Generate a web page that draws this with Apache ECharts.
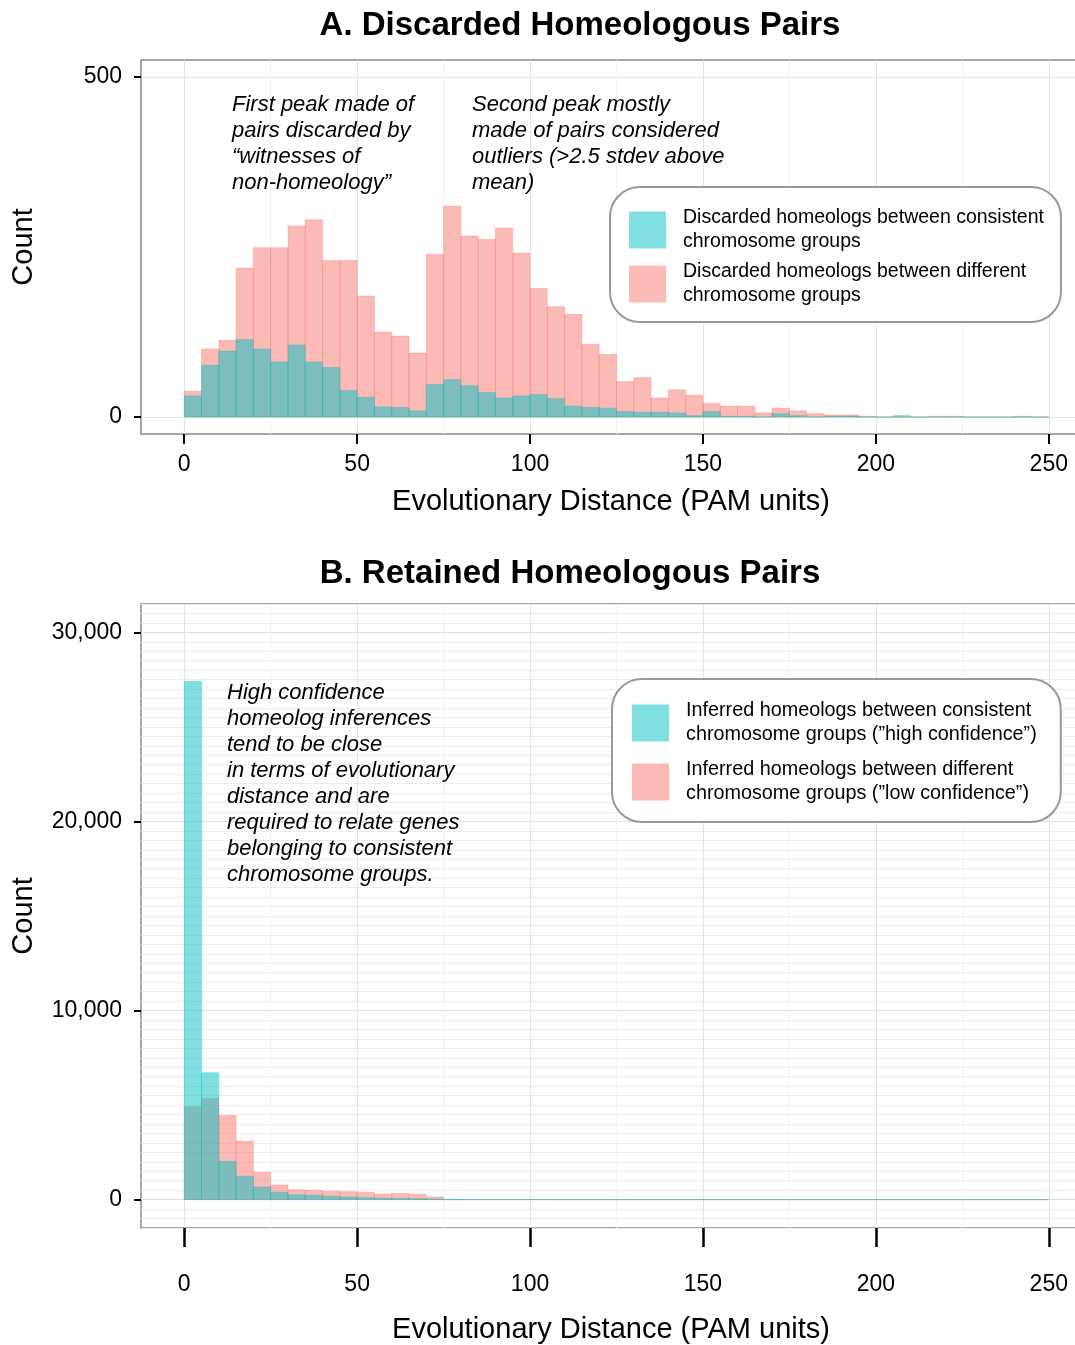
<!DOCTYPE html>
<html><head><meta charset="utf-8">
<script src="https://cdn.jsdelivr.net/npm/echarts@6/dist/echarts.min.js"></script>
<style>html,body{margin:0;padding:0;background:#fff}#c{width:1075px;height:1345px}</style>
</head><body><div id="c"></div>
<script>
// ---- data ----
const binStarts = [0,5,10,15,20,25,30,35,40,45,50,55,60,65,70,75,80,85,90,95,100,105,110,115,120,125,130,135,140,145,150,155,160,165,170,175,180,185,190,195,200,205,210,215,220,225,230,235,240,245];
const binWidth = 5;
const pinkA = [38,100,113,219,249,249,281,290,230,230,178,125,119,94,239,310,266,261,278,241,189,162,151,107,92,52,58,28,40,32,20,16,16,6,13,9,5,3,3,1,0,0,0,1,1,0,0,0,1,0];
const tealA = [31,76,97,114,100,81,106,81,73,39,29,15,14,9,48,55,46,36,28,31,33,27,16,14,13,8,7,7,6,2,8,1,1,0,5,2,0,1,1,0,0,2,0,0,0,0,0,0,0,0];
const pinkB = [4912,5352,4455,3099,1444,775,528,493,440,422,387,299,334,282,141,0,0,0,0,0,0,0,0,0,0,0,0,0,0,0,0,0,0,0,0,0,0,0,0,0,0,0,0,0,0,0,0,0,0,0];
const tealB = [27400,6708,2025,1232,669,387,264,229,176,141,106,70,70,53,35,20,15,10,8,6,5,4,3,3,2,2,1,1,1,1,1,1,0,0,0,0,0,0,0,0,0,0,0,0,0,0,0,0,0,0];
const xTicks = [0,50,100,150,200,250];
const yTicksA = [0,500];
const yTicksB = [0,10000,20000,30000];
const titleA = 'A. Discarded Homeologous Pairs';
const titleB = 'B. Retained Homeologous Pairs';
const xTitle = 'Evolutionary Distance (PAM units)';
const yTitle = 'Count';
const nameTealA = 'Discarded homeologs between consistent\nchromosome groups';
const namePinkA = 'Discarded homeologs between different\nchromosome groups';
const nameTealB = 'Inferred homeologs between consistent\nchromosome groups (\u201Dhigh confidence\u201D)';
const namePinkB = 'Inferred homeologs between different\nchromosome groups (\u201Dlow confidence\u201D)';
const noteA1 = 'First peak made of\npairs discarded by\n\u201Cwitnesses of\nnon-homeology\u201D';
const noteA2 = 'Second peak mostly\nmade of pairs considered\noutliers (>2.5 stdev above\nmean)';
const noteB = 'High confidence\nhomeolog inferences\ntend to be close\nin terms of evolutionary\ndistance and are\nrequired to relate genes\nbelonging to consistent\nchromosome groups.';

const PINK = 'rgba(248,118,109,0.5)';
const TEAL = 'rgba(0,191,196,0.5)';
const FONT = '"Liberation Sans", Arial, Helvetica, sans-serif';
const CLEAR = 'rgba(0,0,0,0)';

function histSeries(name, values, idx, color) {
  return {
    type: 'custom', name: name, xAxisIndex: idx, yAxisIndex: idx,
    itemStyle: { color: color },
    data: binStarts.map((s, i) => [s, s + binWidth, values[i]]),
    encode: { x: [0, 1], y: 2 },
    clip: true, animation: false, silent: true,
    renderItem: function (params, api) {
      const p0 = api.coord([api.value(0), api.value(2)]);
      const p1 = api.coord([api.value(1), 0]);
      return { type: 'rect',
        shape: { x: p0[0], y: p0[1], width: p1[0] - p0[0], height: p1[1] - p0[1] },
        style: { fill: color, stroke: color, lineWidth: 0.6 } };
    }
  };
}

// data axis: carries grid lines only
function xGridAxis(idx) {
  return {
    gridIndex: idx, type: 'value', min: -12.5, max: 262.5, interval: 12.5, position: 'bottom',
    axisLine: { show: false, onZero: false }, axisTick: { show: false }, axisLabel: { show: false },
    splitLine: { show: true, lineStyle: { width: 1, color: [CLEAR, '#e3e3e3', CLEAR, '#f1f1f1'] } }
  };
}
// tick/label axis
function xTickAxis(idx, tickLen, labelMargin, nameGap, tickW) {
  return {
    gridIndex: idx, type: 'value', min: -12.5, max: 262.5, position: 'bottom', offset: 0,
    axisLine: { show: false, onZero: false },
    axisTick: { show: true, customValues: xTicks, length: tickLen, lineStyle: { color: '#000', width: tickW } },
    axisLabel: { customValues: xTicks, fontSize: 23, color: '#000', fontFamily: FONT, margin: labelMargin },
    splitLine: { show: false },
    name: xTitle, nameLocation: 'middle', nameGap: nameGap,
    nameTextStyle: { fontSize: 29, color: '#000', fontFamily: FONT, padding: [0, 11, 0, 0] }
  };
}
function yGridAxis(idx, min, max, interval, colors) {
  return {
    gridIndex: idx, type: 'value', min: min, max: max, interval: interval, position: 'left',
    axisLine: { show: false, onZero: false }, axisTick: { show: false }, axisLabel: { show: false },
    splitLine: { show: true, lineStyle: { width: 1, color: colors } }
  };
}
function yTickAxis(idx, min, max, ticks) {
  return {
    gridIndex: idx, type: 'value', min: min, max: max, position: 'left', offset: 0,
    axisLine: { show: false, onZero: false },
    axisTick: { show: true, customValues: ticks, length: 7, lineStyle: { color: '#000', width: 2 } },
    axisLabel: { customValues: ticks, fontSize: 23, color: '#000', fontFamily: FONT, margin: 19,
      formatter: v => Number(v).toLocaleString('en-US') },
    splitLine: { show: false },
    name: yTitle, nameLocation: 'middle', nameGap: 103,
    nameTextStyle: { fontSize: 29, color: '#000', fontFamily: FONT }
  };
}

const colorsA = [];
for (let i = 0; i < 20; i++) colorsA.push(i === 1 ? '#e3e3e3' : CLEAR);
const colorsB = [];
for (let i = 0; i < 20; i++) colorsB.push(i === 3 ? '#e0e0e0' : '#ececec');

const gridBase = { show: true, borderColor: '#8a8a8a', borderWidth: 1.5, backgroundColor: 'transparent', outerBoundsMode: 'none', containLabel: false };

const option = {
  backgroundColor: '#fff',
  animation: false,
  textStyle: { fontFamily: FONT },
  grid: [
    Object.assign({ left: 141, top: 60, width: 951, height: 374 }, gridBase),
    Object.assign({ left: 141, top: 604, width: 951, height: 624 }, gridBase)
  ],
  xAxis: [ xGridAxis(0), xGridAxis(1), xTickAxis(0, 10, 19, 53, 2), xTickAxis(1, 19, 45, 87, 2.5) ],
  yAxis: [
    yGridAxis(0, -25, 525, 25, colorsA),
    yGridAxis(1, -1500, 31500, 500, colorsB),
    yTickAxis(0, -25, 525, yTicksA),
    yTickAxis(1, -1500, 31500, yTicksB)
  ],
  legend: [
    { data: [nameTealA, namePinkA], orient: 'vertical', left: 610, top: 187,
      padding: [19, 17, 14, 19], itemWidth: 37, itemHeight: 37, itemGap: 6,
      borderColor: '#999', borderWidth: 2, borderRadius: 30, backgroundColor: '#fff',
      icon: 'rect', selectedMode: false, itemStyle: { borderWidth: 0 },
      textStyle: { fontSize: 19.5, lineHeight: 24, color: '#000', fontFamily: FONT, padding: [0, 0, 0, 12] } },
    { data: [nameTealB, namePinkB], orient: 'vertical', left: 612, top: 679,
      padding: [20, 24, 16, 20], itemWidth: 37, itemHeight: 37, itemGap: 11,
      borderColor: '#999', borderWidth: 2, borderRadius: 30, backgroundColor: '#fff',
      icon: 'rect', selectedMode: false, itemStyle: { borderWidth: 0 },
      textStyle: { fontSize: 19.8, lineHeight: 24, color: '#000', fontFamily: FONT, padding: [0, 0, 0, 12] } }
  ],
  graphic: [
    { type: 'text', x: 580, y: 26, style: { text: titleA, textAlign: 'center', textVerticalAlign: 'middle', fontSize: 33, fontWeight: 'bold', fontFamily: FONT, fill: '#000' } },
    { type: 'text', x: 570, y: 574, style: { text: titleB, textAlign: 'center', textVerticalAlign: 'middle', fontSize: 33, fontWeight: 'bold', fontFamily: FONT, fill: '#000' } },
    { type: 'text', x: 232, y: 92, z: 10, style: { text: noteA1, fontSize: 22, fontStyle: 'italic', lineHeight: 26, fontFamily: FONT, fill: '#000' } },
    { type: 'text', x: 472, y: 92, z: 10, style: { text: noteA2, fontSize: 22, fontStyle: 'italic', lineHeight: 26, fontFamily: FONT, fill: '#000' } },
    { type: 'text', x: 227, y: 680, z: 10, style: { text: noteB, fontSize: 22, fontStyle: 'italic', lineHeight: 26, fontFamily: FONT, fill: '#000' } }
  ],
  series: [
    histSeries(namePinkA, pinkA, 0, PINK),
    histSeries(nameTealA, tealA, 0, TEAL),
    histSeries(namePinkB, pinkB, 1, PINK),
    histSeries(nameTealB, tealB, 1, TEAL)
  ]
};
const chart = echarts.init(document.getElementById('c'), null, { renderer: 'canvas' });
chart.setOption(option);
</script></body></html>
